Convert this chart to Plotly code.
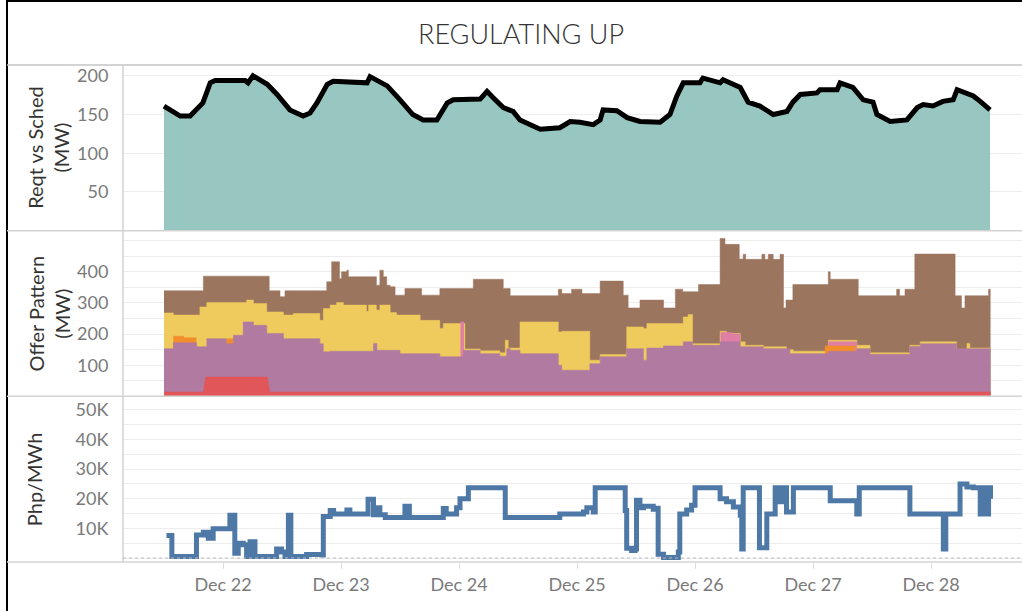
"""
Regulating Up dashboard: requirement, offer pattern and price panels
"""
import plotly.graph_objects as go
from plotly.subplots import make_subplots
import pandas as pd

BASE = pd.Timestamp("2023-12-21 00:00")

# --- Reqt vs Sched (hours since Dec 21 00:00, MW)
reqt_hours = [12.0, 15.3, 17.3, 19.9, 21.4, 22.4, 28.5, 29.1, 30.1, 33.0, 35.0, 37.6,
              40.3, 41.7, 43.1, 45.2, 46.4, 53.3, 53.9, 57.4, 60.0, 62.6, 64.7, 67.5,
              69.6, 70.8, 76.3, 77.7, 78.9, 81.0, 83.0, 84.4, 88.5, 92.5, 94.6, 96.6,
              99.3, 100.7, 101.3, 104.1, 106.2, 108.8, 112.9, 114.9, 116.3, 117.6, 121.0,
              121.6, 125.1, 125.7, 129.2, 130.8, 133.2, 135.9, 138.7, 139.9, 141.4, 144.8,
              145.4, 148.9, 149.5, 152.1, 154.2, 156.2, 157.0, 159.7, 163.1, 165.2, 166.4,
              168.4, 170.4, 172.5, 173.3, 176.6, 178.0, 180.0]
reqt_mw = [161, 148, 148, 165, 191, 194, 194, 191, 200, 189, 176, 156,
           148, 152, 165, 189, 193, 191, 199, 187, 169, 150, 143, 143,
           165, 169, 170, 180, 172, 159, 154, 143, 131, 133, 141, 140,
           137, 143, 156, 155, 146, 141, 140, 150, 174, 191, 191,
           197, 191, 195, 185, 166, 161, 150, 154, 166, 176, 178,
           182, 182, 191, 185, 169, 166, 150, 141, 143, 159, 163,
           161, 167, 169, 182, 174, 167, 156]

# --- Offer pattern, cumulative top of each band (MW)
brown_hours = [12.0, 20.0, 33.4, 35.6, 36.6, 45.1, 46.1, 47.7, 48.1, 49.2, 49.5, 55.2,
               55.9, 56.6, 57.3, 58.0, 59.0, 61.0, 64.4, 68.1, 74.9, 81.0, 82.4, 92.2,
               92.9, 94.9, 97.0, 100.7, 105.4, 106.4, 108.8, 113.6, 116.0, 117.5, 120.7,
               125.1, 126.1, 129.0, 129.8, 130.3, 133.6, 134.2, 134.9, 135.9, 137.3, 138.0,
               138.5, 139.9, 147.1, 147.5, 153.2, 161.0, 161.6, 162.7, 164.7, 172.9, 174.2,
               174.9, 179.7, 180.1]
brown_mw = [339, 386, 339, 320, 339, 368, 432, 378, 400, 405, 384, 357,
            405, 384, 357, 352, 325, 346, 325, 346, 376, 346, 323, 344,
            330, 344, 330, 370, 325, 284, 309, 284, 344, 336, 359,
            507, 488, 441, 456, 440, 456, 440, 456, 440, 456, 284,
            309, 359, 400, 376, 323, 344, 323, 344, 457, 323, 284,
            323, 344, 344]

yellow_hours = [12.0, 13.9, 19.3, 20.7, 28.8, 30.2, 32.9, 36.3, 38.3, 43.7, 44.4, 45.8,
                47.1, 48.5, 53.2, 53.6, 55.2, 55.9, 58.0, 59.3, 64.1, 68.1, 68.8, 73.2,
                76.3, 80.3, 81.4, 82.0, 84.4, 92.2, 92.9, 98.6, 100.7, 106.1, 109.5, 110.2,
                117.6, 118.6, 119.5, 125.1, 126.4, 129.2, 130.2, 133.9, 138.6, 140.0, 147.1,
                152.9, 155.6, 163.7, 165.8, 173.2, 175.3, 175.9, 180.1]
yellow_mw = [268, 261, 287, 301, 309, 298, 271, 261, 266, 244, 282, 293,
             301, 293, 273, 293, 277, 293, 269, 261, 244, 218, 234, 152,
             146, 140, 180, 155, 239, 207, 209, 116, 134, 223, 218, 234,
             255, 263, 169, 209, 202, 175, 164, 159, 150, 145, 180,
             164, 140, 164, 175, 151, 170, 155, 155]

# pink and orange only show in a few stretches (None splits the stretches)
pink_hours = [72.3, 73.0, None, 125.2, 127.5, 129.2, None, 147.1, 152.9]
pink_mw = [239, 239, None, 205, 200, 200, None, 175, 175]

orange_hours = [13.9, 16.0, 18.6, None, 24.7, 26.1, None, 146.4, 152.6]
orange_mw = [193, 188, 188, None, 185, 185, None, 162, 162]

purple_hours = [12.0, 13.9, 18.6, 20.7, 24.7, 26.1, 28.1, 30.2, 32.9, 36.3, 43.7, 44.4,
                45.8, 54.6, 55.3, 60.0, 68.1, 72.9, 76.3, 80.3, 81.7, 82.4, 84.4, 92.2,
                92.9, 98.6, 100.7, 106.1, 109.5, 110.2, 113.6, 117.6, 119.5, 125.1, 129.2,
                133.9, 139.3, 147.1, 152.9, 155.6, 163.7, 165.8, 173.2, 180.1]
purple_mw = [153, 172, 159, 185, 169, 196, 239, 228, 202, 185, 169, 143,
             145, 170, 148, 137, 127, 148, 137, 129, 153, 148, 137, 100,
             84, 105, 127, 153, 116, 155, 162, 175, 164, 175, 159,
             153, 137, 145, 153, 135, 160, 169, 153, 153]

red_hours = [12.0, 20.0, 20.5, 33.0, 33.5, 180.1]
red_mw = [14, 14, 62, 62, 14, 14]

# --- Price (Php/MWh)
price_hours = [12.5, 13.6, 18.6, 20.0, 21.0, 22.0, 25.4, 26.4, 27.1, 28.1, 28.8, 29.5,
               30.5, 34.9, 35.9, 36.6, 37.3, 37.8, 41.0, 44.1, 44.4, 45.8, 46.5, 49.2,
               49.8, 53.5, 54.6, 55.3, 55.9, 57.0, 61.0, 61.9, 68.8, 69.4, 71.5, 72.2,
               73.9, 81.4, 92.5, 97.3, 98.0, 99.3, 99.7, 105.8, 106.1, 107.1, 107.8, 108.1,
               108.8, 109.5, 111.5, 112.2, 112.5, 113.6, 116.6, 116.9, 118.3, 119.3, 120.0,
               125.1, 126.4, 127.8, 129.2, 129.5, 129.8, 133.1, 134.6, 136.3, 137.3, 138.3,
               138.6, 140.0, 147.5, 152.9, 153.4, 163.7, 170.5, 171.0, 173.9, 175.3, 176.6,
               178.0, 178.6, 179.3, 179.7, 180.1]
price_php = [7600, 500, 7800, 8700, 6700, 9900, 14400, 1600, 5000, 4500, 500, 5500,
             500, 3000, 2000, 500, 14400, 500, 1200, 1000, 14000, 16000, 14900, 16200,
             14900, 19800, 14600, 17000, 14600, 13700, 17500, 13700, 16700, 14900, 17000, 20000,
             23700, 13700, 14900, 15500, 17000, 15500, 23700, 16000, 3300, 2500, 3000, 19500,
             17000, 17500, 16500, 16800, 1300, 200, 2000, 14900, 16200, 17800, 23700,
             20000, 19000, 17200, 14400, 3000, 23700, 3500, 14900, 23700, 19000, 23700,
             15500, 23700, 19300, 14900, 23700, 14900, 3000, 14900, 25000, 24000, 23700,
             14900, 23700, 14900, 23700, 20000]


def to_time(hours):
    return [BASE + pd.Timedelta(hours=h) for h in hours]


def split_runs(hours, vals):
    """Split None-separated lists into separate (hours, vals) runs"""
    runs, cur_h, cur_v = [], [], []
    for h, v in zip(hours, vals):
        if h is None:
            runs.append((cur_h, cur_v))
            cur_h, cur_v = [], []
        else:
            cur_h.append(h)
            cur_v.append(v)
    if cur_h:
        runs.append((cur_h, cur_v))
    return runs


FONT = "Lato"
GRID = "#ededed"
SEP = "#d3d3d3"

fig = make_subplots(rows=3, cols=1, shared_xaxes=True, vertical_spacing=0)

# Requirement area + black line
fig.add_trace(go.Scatter(x=to_time(reqt_hours), y=reqt_mw, mode="lines",
                         fill="tozeroy", fillcolor="#98c7c2",
                         line=dict(color="#86bdb7", width=1.5)), row=1, col=1)
fig.add_trace(go.Scatter(x=to_time(reqt_hours), y=reqt_mw, mode="lines",
                         line=dict(color="black", width=5)), row=1, col=1)

# Offer pattern layers, painted from the top band downwards
layers = [
    (brown_hours, brown_mw, "#9c755f"),
    (yellow_hours, yellow_mw, "#efca5c"),
    (pink_hours, pink_mw, "#df7fa6"),
    (orange_hours, orange_mw, "#f28e2b"),
    (purple_hours, purple_mw, "#b07aa1"),
]
for hrs, vals, col in layers:
    for run_h, run_v in split_runs(hrs, vals):
        fig.add_trace(go.Scatter(x=to_time(run_h), y=run_v, mode="lines", line_shape="hv",
                                 fill="tozeroy", fillcolor=col,
                                 line=dict(color=col, width=0.5)), row=2, col=1)
fig.add_trace(go.Scatter(x=to_time(red_hours), y=red_mw, mode="lines",
                         fill="tozeroy", fillcolor="#e15759",
                         line=dict(color="#e15759", width=0.5)), row=2, col=1)

# Price
fig.add_trace(go.Scatter(x=to_time(price_hours), y=price_php, mode="lines", line_shape="hv",
                         line=dict(color="#4e79a7", width=5)), row=3, col=1)

x_start = BASE + pd.Timedelta(hours=3.66)
x_end = BASE + pd.Timedelta(hours=186.5)

tickfont = dict(family=FONT, size=18, color="#7a7a7a")
fig.update_xaxes(range=[x_start, x_end], showgrid=False, zeroline=False, showline=False)
fig.update_xaxes(tickformat="%b %d", dtick=86400000, tick0="2023-12-22",
                 ticks="outside", ticklen=6, tickcolor="#dddddd", tickfont=tickfont,
                 row=3, col=1)

yax = dict(showgrid=True, gridcolor=GRID, gridwidth=1, zeroline=False, showline=False,
           ticks="outside", ticklen=10, tickcolor="rgba(0,0,0,0)", tickfont=tickfont)
fig.update_yaxes(range=[0, 214], tickvals=[50, 100, 150, 200], **yax, row=1, col=1)
fig.update_yaxes(range=[0, 532], tickvals=[100, 200, 300, 400],
                 minor=dict(tick0=0, dtick=50, showgrid=True, gridcolor=GRID), **yax,
                 row=2, col=1)
fig.update_yaxes(range=[-1350, 54600], tickvals=[10000, 20000, 30000, 40000, 50000],
                 ticktext=["10K", "20K", "30K", "40K", "50K"],
                 minor=dict(tick0=0, dtick=5000, showgrid=True, gridcolor=GRID), **yax,
                 row=3, col=1)


# frame lines, in paper units (plot area: x 123..1022, y 65..562 px)
def px_x(x):
    return (x - 123) / 899


def px_y(y):
    return (562 - y) / 497


shapes = [
    dict(type="line", xref="paper", yref="paper", x0=px_x(6), x1=px_x(1022),
         y0=px_y(1), y1=px_y(1), line=dict(color="black", width=2)),
    dict(type="line", xref="paper", yref="paper", x0=px_x(7), x1=px_x(7),
         y0=px_y(0), y1=px_y(611), line=dict(color="black", width=2)),
    dict(type="line", xref="paper", yref="paper", x0=px_x(7), x1=1,
         y0=1, y1=1, line=dict(color="#c4c4c4", width=1.5)),
    dict(type="line", xref="paper", yref="paper", x0=0, x1=0,
         y0=0, y1=1, line=dict(color=SEP, width=1.5)),
    dict(type="line", xref="paper", yref="y3", x0=0, x1=1, y0=0, y1=0,
         line=dict(color="#bdbdbd", width=1, dash="dot")),
]
for yb in [2 / 3, 1 / 3, 0]:
    shapes.append(dict(type="line", xref="paper", yref="paper", x0=px_x(7), x1=1,
                       y0=yb, y1=yb, line=dict(color=SEP, width=1.5)))

titlefont = dict(family=FONT, size=20, color="#333333")
annotations = [
    dict(text="REGULATING UP", xref="paper", yref="paper", x=px_x(521), y=px_y(33),
         xanchor="center", yanchor="middle", showarrow=False,
         font=dict(family=FONT, size=27, color="#333333", weight=300)),
    dict(text="Reqt vs Sched<br>(MW)", xref="paper", yref="paper", x=px_x(48),
         y=5 / 6, xanchor="center", yanchor="middle", textangle=-90, showarrow=False,
         font=titlefont),
    dict(text="Offer Pattern<br>(MW)", xref="paper", yref="paper", x=px_x(48),
         y=1 / 2, xanchor="center", yanchor="middle", textangle=-90, showarrow=False,
         font=titlefont),
    dict(text="Php/MWh", xref="paper", yref="paper", x=px_x(34),
         y=1 / 6, xanchor="center", yanchor="middle", textangle=-90, showarrow=False,
         font=titlefont),
]

fig.update_layout(width=1022, height=611, margin=dict(l=123, r=0, t=65, b=49),
                  plot_bgcolor="white", paper_bgcolor="white", showlegend=False,
                  font=dict(family=FONT), shapes=shapes, annotations=annotations)

fig.write_html("out.html", config={"displayModeBar": False},
               post_script="document.body.style.margin = '0';")
